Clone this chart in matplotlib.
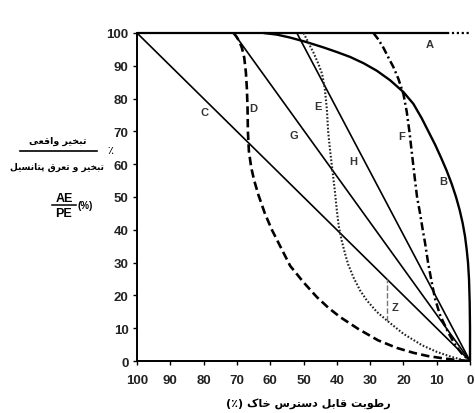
import matplotlib
matplotlib.use("Agg")
import matplotlib.pyplot as plt
from matplotlib.lines import Line2D

# soil moisture (%) vs AE/PE (%) for the different curves
a_x = [100, 7]
a_y = [100, 100]
a_dot_x = [7, 0]
a_dot_y = [100, 100]

b_x = [62, 58, 54, 49, 44, 40, 36, 32, 28, 24, 20, 17, 14.5, 12.5, 10.5, 8.7, 7, 5.5,
       4.2, 3.1, 2.2, 1.5, 1, 0.6, 0.3, 0.1, 0, 0]
b_y = [100, 99.5, 98.6, 97.2, 95.6, 94.2, 92.7, 90.8, 88.5, 85.6, 82, 78.4, 74, 70,
       66, 62, 58, 54, 50, 46, 42, 38, 34, 30, 25, 18, 10, 0]

c_x = [100, 0]
c_y = [100, 0]

d_x = [71, 70.2, 69.3, 68.5, 67.8, 67.3, 67, 66.8, 66.7, 66.4, 65.7, 64.8, 63.5, 61.6,
       59.5, 57, 54, 50, 46, 42.5, 39, 33.6, 27.6, 22, 17, 12.6, 8, 4, 0]
d_y = [100, 99, 97.5, 95.5, 92.5, 88, 83, 77, 70, 64, 59, 55, 50.5, 45,
       40, 35, 29, 24, 19.5, 16.2, 13.4, 9.8, 6.3, 4, 2.5, 1.5, 0.8, 0.3, 0]

e_x = [50, 48.5, 47, 45.5, 44.4, 43.6, 43, 42.6, 42, 41.3, 40.6, 40, 39.4, 38.6, 37.6,
       36.6, 35, 33, 31, 28, 24.9, 20, 14.4, 10, 5.4, 2, 0]
e_y = [100, 97, 94, 90.5, 87.5, 83, 77, 70, 64, 58, 52, 46, 41, 37, 33,
       29.5, 25.5, 21.5, 18.5, 15, 12.3, 8.3, 4.8, 2.8, 1.2, 0.3, 0]

f_x = [29, 27.5, 26, 24.5, 23, 21.5, 20, 19, 18.2, 17.3, 16.5, 15.9, 15, 14.2, 13.5,
       12.6, 11.5, 10.5, 9, 6.6, 4.5, 2.5, 0]
f_y = [100, 98, 95.5, 92.5, 89.6, 86, 81.4, 76, 70, 62, 55, 50, 45, 40, 36,
       30, 24, 19, 14, 8.8, 5, 2.3, 0]

g_x = [71, 0]
g_y = [100, 0]

h_x = [52, 0]
h_y = [100, 0]

z_x = [25, 25]
z_y = [12.3, 25]

# label letters
letters = ["A", "B", "C", "D", "E", "F", "G", "H", "Z"]
letter_x = [12, 8, 79.6, 65, 45.6, 20.4, 53, 35, 22.5]
letter_y = [96.5, 55, 76, 77, 77.7, 68.6, 69, 61, 16.5]

ticks = list(range(0, 101, 10))

# very small arabic-script shaper (matplotlib has no bidi / joining)
FORMS = {
    'ا': ('\uFE8D', '\uFE8E', None, None),
    'ب': ('\uFE8F', '\uFE90', '\uFE91', '\uFE92'),
    'ت': ('\uFE95', '\uFE96', '\uFE97', '\uFE98'),
    'خ': ('\uFEA5', '\uFEA6', '\uFEA7', '\uFEA8'),
    'ر': ('\uFEAD', '\uFEAE', None, None),
    'ط': ('\uFEC1', '\uFEC2', '\uFEC3', '\uFEC4'),
    'و': ('\uFEED', '\uFEEE', None, None),
    'ق': ('\uFED5', '\uFED6', '\uFED7', '\uFED8'),
    'ع': ('\uFEC9', '\uFECA', '\uFECB', '\uFECC'),
    'ی': ('\uFBFC', '\uFBFD', '\uFBFE', '\uFBFF'),
    'پ': ('\uFB56', '\uFB57', '\uFB58', '\uFB59'),
    'ن': ('\uFEE5', '\uFEE6', '\uFEE7', '\uFEE8'),
    'س': ('\uFEB1', '\uFEB2', '\uFEB3', '\uFEB4'),
    'ل': ('\uFEDD', '\uFEDE', '\uFEDF', '\uFEE0'),
    'د': ('\uFEA9', '\uFEAA', None, None),
    'ک': ('\uFB8E', '\uFB8F', '\uFB90', '\uFB91'),
}


def shape(s):
    out = []
    for i, c in enumerate(s):
        if c not in FORMS:
            out.append(c)
            continue
        prev = s[i - 1] if i > 0 else ''
        nxt = s[i + 1] if i + 1 < len(s) else ''
        jp = prev in FORMS and FORMS[prev][2] is not None
        jn = FORMS[c][2] is not None and nxt in FORMS
        f = FORMS[c]
        if jp and jn:
            out.append(f[3])
        elif jp:
            out.append(f[1])
        elif jn:
            out.append(f[2])
        else:
            out.append(f[0])
    vis = ''.join(out)[::-1]
    return vis.translate(str.maketrans('()', ')('))


fa_font = ['DejaVu Sans', 'Noto Sans']

fig = plt.figure(figsize=(4.75, 4.14), dpi=100)
ax = fig.add_axes([0.2884, 0.1256, 0.7011, 0.7923])

k = dict(color='black', clip_on=False, solid_capstyle='butt', solid_joinstyle='round')
ax.plot(a_x, a_y, lw=1.6, **k)
ax.plot(a_dot_x, a_dot_y, lw=1.6, color='black', clip_on=False, dashes=(1, 1.2))
ax.plot(b_x, b_y, lw=1.7, **k)
ax.plot(c_x, c_y, lw=1.2, **k)
ax.plot(g_x, g_y, lw=1.2, **k)
ax.plot(h_x, h_y, lw=1.2, **k)
ax.plot(d_x, d_y, lw=1.9, color='black', clip_on=False, dashes=(3.2, 1.6))
ax.plot(e_x, e_y, lw=1.5, color='#222222', clip_on=False, dashes=(0.8, 0.9))
ax.plot(f_x, f_y, lw=1.8, color='black', clip_on=False, dashes=(3.2, 1.3, 0.8, 1.3))
ax.plot(z_x, z_y, lw=1.0, color='#777777', dashes=(4, 1.5))

for t, x, y in zip(letters, letter_x, letter_y):
    ax.text(x, y, t, fontsize=8, fontweight='bold', color='#333333',
            ha='center', va='center', family='Liberation Sans')

ax.set_xlim(100, 0)
ax.set_ylim(0, 100)
ax.set_xticks(ticks)
ax.set_yticks(ticks)
ax.spines['top'].set_visible(False)
ax.spines['right'].set_visible(False)
for s in ['left', 'bottom']:
    ax.spines[s].set_linewidth(1.4)
ax.tick_params(axis='both', length=3, width=1, labelsize=9.5, pad=3)
ax.tick_params(axis='x', pad=6)
for lab in ax.get_xticklabels() + ax.get_yticklabels():
    lab.set_family('Liberation Sans')
    lab.set_fontweight('bold')
    lab.set_color('#222222')

# y label block: persian fraction + AE/PE
fig.text(58 / 475, 1 - 141 / 414, shape('تبخیر واقعی'), family=fa_font,
         fontsize=6.8, fontweight='bold', ha='center', va='center')
fig.text(57 / 475, 1 - 167 / 414, shape('تبخیر و تعرق پتانسیل'), family=fa_font,
         fontsize=6.5, fontweight='bold', ha='center', va='center')
fig.add_artist(Line2D([20 / 475, 97 / 475], [1 - 152 / 414] * 2, color='black', lw=1.2))
fig.text(110 / 475, 1 - 151 / 414, '٪', family=fa_font, fontsize=8, ha='center', va='center')

fig.text(64 / 475, 1 - 199 / 414, 'AE', family='Liberation Sans', fontsize=9,
         fontweight='bold', ha='center', va='center')
fig.add_artist(Line2D([52 / 475, 76 / 475], [1 - 206 / 414] * 2, color='black', lw=1.1))
fig.text(64 / 475, 1 - 214 / 414, 'PE', family='Liberation Sans', fontsize=9,
         fontweight='bold', ha='center', va='center')
fig.text(77 / 475, 1 - 206 / 414, '(%)', family='Liberation Sans', fontsize=7,
         fontweight='bold', ha='left', va='center')

# x label
fig.text(308 / 475, 1 - 404 / 414, shape('رطوبت قابل دسترس خاک (٪)'), family=fa_font,
         fontsize=8, fontweight='bold', ha='center', va='center')

fig.savefig('out.png', dpi=100)
